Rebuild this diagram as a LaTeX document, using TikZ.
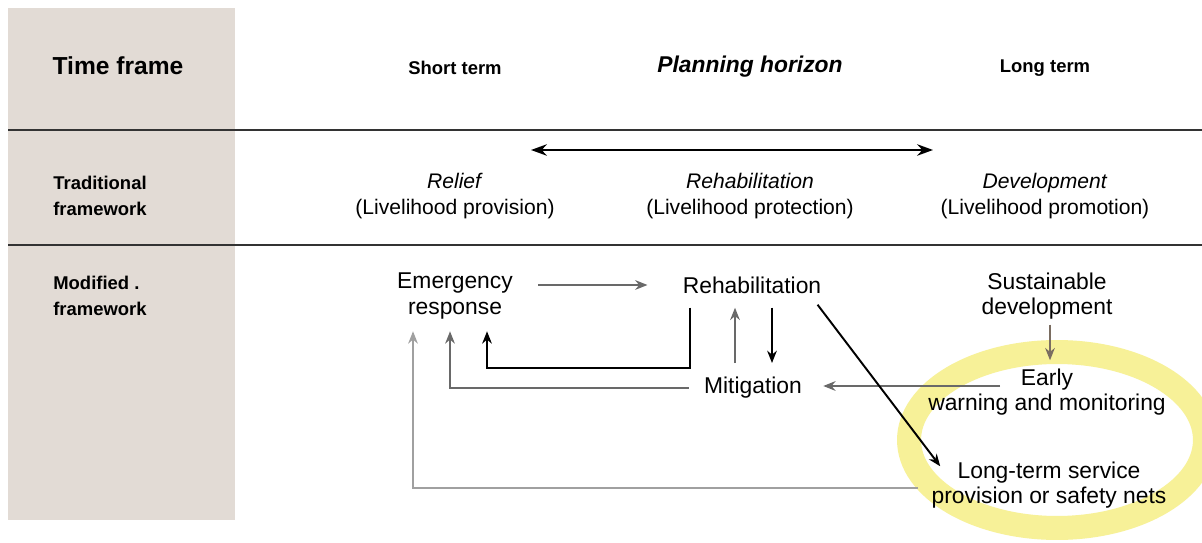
\documentclass[tikz,border=0pt]{standalone}
\usepackage{fontspec}
\setmainfont{Liberation Sans}
\usepackage{tikz}
\usetikzlibrary{arrows.meta,positioning,calc}
\definecolor{panel}{RGB}{226,219,213}
\definecolor{ring}{RGB}{247,241,152}
\definecolor{midgray}{RGB}{105,105,105}
\definecolor{lightgray}{RGB}{160,160,160}
\tikzset{item/.style={inner sep=0pt, align=center, font=\fontsize{13}{14.5}\selectfont},
	trad/.style={inner sep=0pt, align=center, font=\fontsize{12}{14.7}\selectfont},
	rowhead/.style={inner sep=0pt, anchor=west, align=left, font=\fontsize{10.5}{14.7}\selectfont\bfseries},
	colhead/.style={inner sep=0pt, font=\fontsize{10.5}{12}\selectfont\bfseries},
	link/.style={line width=1.1pt, -{Stealth[length=7pt,width=5.5pt]}}}

\begin{document}
\begin{tikzpicture}[x=0.02cm,y=-0.02cm]
		\useasboundingbox (0,0) rectangle (1202,543);
		\fill[white] (0,0) rectangle (1202,543);
		\fill[panel] (8,8) rectangle (235,520);
		\begin{scope}
			\clip (0,0) rectangle (1202,543);
			\draw[ring, line width=0.48cm] (1057,440) ellipse [x radius=2.96cm, y radius=1.76cm];
		\end{scope}
		\draw[line width=1.4pt, black!80] (8,130) -- (1202,130) (8,245) -- (1202,245);
		% header row
		\node[inner sep=0pt, font=\fontsize{14}{16}\selectfont\bfseries] (tframe) at (118,66) {Time frame};
		\node[colhead] (short) at (455,68) {Short term};
		\node[inner sep=0pt, font=\fontsize{13}{15}\selectfont\bfseries\itshape] (horizon) at (750,67) {Planning horizon};
		\node[colhead] (long) at (1045,68) {Long term};
		% traditional framework
		\node[rowhead] (tradhd) at (53,196) {Traditional\\framework};
		\node[trad] (relief) at (455,196) {\textit{Relief}\\(Livelihood provision)};
		\node[trad] (rehabt) at (750,196) {\textit{Rehabilitation}\\(Livelihood protection)};
		\node[trad] (devt) at (1045,196) {\textit{Development}\\(Livelihood promotion)};
		\coordinate (hzl) at (531,150);
		\coordinate (hzr) at (933,150);
		\draw[line width=1.4pt, {Stealth[length=9pt,width=6.5pt]}-{Stealth[length=9pt,width=6.5pt]}] (hzl) -- (hzr);
		% modified framework
		\node[rowhead] (modhd) at (53,296) {Modified .\\framework};
		\node[item] (emerg) at (455,296) {Emergency\\response};
		\node[item] (rehab) at (752,285) {Rehabilitation};
		\node[item] (sust) at (1047,296) {Sustainable\\development};
		\node[item] (early) at (1047,392) {Early\\warning and monitoring};
		\node[item] (mitig) at (753,388) {Mitigation};
		\node[item] (lts) at (1049,485) {Long-term service\\provision or safety nets};
		\draw[link, midgray] ($(emerg.east |- rehab)+(25,0)$) -- ($(rehab.west)+(-35,0)$);
		\draw[link, black] ($(rehab.south west)+(8,14)$) -- ++(0,60) -| ($(emerg.south)+(32,12)$);
		\draw[link, midgray] ($(mitig.west)+(-15,0)$) -| ($(emerg.south)+(-5,12)$);
		\draw[link, lightgray] ($(lts.west)+(-13,3)$) -| ($(emerg.south)+(-42,12)$);
		\draw[link, midgray] ($(mitig.north)+(-18,-14)$) -- ($(rehab.south)+(-17,14)$);
		\draw[link, black] ($(rehab.south)+(20,14)$) -- ($(mitig.north)+(19,-14)$);
		\draw[link, midgray] ($(early.center)+(-47,-6)$) -- ($(mitig.east)+(21,-2)$);
		\draw[link, midgray!80!brown] ($(sust.south)+(3,5)$) -- ($(early.north)+(3,-8)$);
		\draw[link, black] ($(rehab.south east)+(-4,11)$) -- ($(lts.north west)+(9,5)$);
\end{tikzpicture}
\end{document}
